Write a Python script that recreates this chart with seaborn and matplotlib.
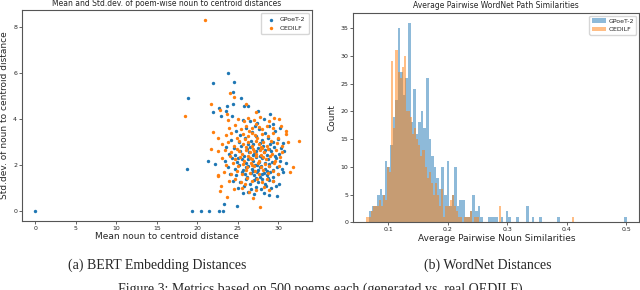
import numpy as np
import pandas as pd
import matplotlib
matplotlib.use("Agg")
import matplotlib.pyplot as plt
import seaborn as sns

# --- (a) BERT: mean / std.dev. of noun-to-centroid distance per poem
gpoet_pts = [
    (0, 0), (19.4, 0), (20.5, 0), (21.4, 0), (22.7, 0), (23.2, 0), (23.3, 0.33), (24.9, 0.24),
    (18.7, 1.85), (21.3, 2.2), (22.2, 2.07), (18.8, 4.94), (23.8, 6.02), (22.0, 5.56), (24.5, 5.6),
    (24.4, 5.2), (25.4, 4.94), (22.0, 4.31), (22.7, 4.48), (23.7, 4.55), (22.9, 4.12), (24.3, 4.12),
    (24.4, 4.67), (25.8, 4.57), (26.3, 4.57), (23.6, 4.34), (27.5, 4.37), (29.0, 4.24), (29.8, 0.67),
    (26.5, 3.9), (27.4, 3.85), (28.2, 4.0), (29.3, 3.8), (25.7, 3.95), (28.9, 3.7),
    (24.8, 3.5), (26.0, 3.6), (26.8, 3.45), (27.6, 3.55), (28.4, 3.4), (29.6, 3.5), (30.2, 3.6),
    (25.3, 3.3), (27.1, 3.7),
    (24.2, 3.1), (25.1, 3.0), (25.9, 3.2), (26.6, 3.05), (27.3, 3.25), (28.0, 3.1), (28.7, 3.2),
    (29.4, 3.0), (30.0, 3.15), (30.6, 2.95), (26.2, 2.9),
    (23.6, 2.8), (24.5, 2.75), (25.4, 2.85), (26.1, 2.7), (26.9, 2.9), (27.5, 2.75), (28.1, 2.85),
    (28.8, 2.7), (29.5, 2.8), (30.3, 2.75), (27.8, 2.95), (26.5, 2.8), (29.0, 2.9),
    (23.9, 2.5), (24.7, 2.45), (25.3, 2.6), (25.8, 2.4), (26.4, 2.55), (26.9, 2.45), (27.3, 2.6),
    (27.7, 2.4), (28.2, 2.55), (28.6, 2.45), (29.1, 2.6), (29.6, 2.4), (30.1, 2.5), (30.7, 2.6),
    (27.0, 2.5), (28.4, 2.65), (25.0, 2.3),
    (23.4, 2.2), (24.3, 2.3), (24.9, 2.15), (25.5, 2.25), (26.0, 2.1), (26.5, 2.3), (26.9, 2.2),
    (27.2, 2.35), (27.6, 2.15), (28.0, 2.3), (28.3, 2.1), (28.7, 2.25), (29.2, 2.15), (29.7, 2.3),
    (30.2, 2.2), (30.9, 2.1), (27.4, 2.0), (26.2, 2.25), (28.9, 2.05),
    (23.8, 1.9), (24.6, 1.85), (25.2, 2.0), (25.7, 1.8), (26.3, 1.95), (26.7, 1.85), (27.1, 2.0),
    (27.5, 1.8), (27.9, 1.95), (28.4, 1.85), (28.8, 1.95), (29.3, 1.8), (29.8, 1.9), (30.4, 1.85),
    (26.0, 1.9), (27.7, 1.9), (28.6, 1.75),
    (24.0, 1.6), (24.8, 1.55), (25.5, 1.7), (26.1, 1.5), (26.6, 1.65), (27.0, 1.55), (27.4, 1.7),
    (27.8, 1.5), (28.2, 1.65), (28.6, 1.55), (29.0, 1.7), (29.4, 1.5), (30.0, 1.6), (30.6, 1.7),
    (26.9, 1.75), (28.0, 1.6), (25.9, 1.6),
    (24.4, 1.3), (25.3, 1.25), (26.0, 1.4), (26.5, 1.2), (27.0, 1.35), (27.5, 1.25), (28.0, 1.4),
    (28.4, 1.2), (28.9, 1.35), (29.4, 1.3), (30.1, 1.2), (27.2, 1.45), (28.7, 1.45),
    (25.0, 1.0), (25.8, 1.1), (26.6, 0.95), (27.3, 1.05), (27.9, 0.95), (28.5, 1.1), (29.1, 1.0),
    (29.7, 1.1), (26.3, 0.85), (28.2, 0.8), (27.0, 0.75), (28.8, 0.7), (25.6, 0.8),
]
oedilf_pts = [
    (21.0, 8.33), (18.5, 4.12), (21.7, 4.64), (24.1, 5.14), (24.5, 4.96), (26.0, 4.67), (22.8, 4.38),
    (23.7, 4.22), (27.3, 4.29), (29.5, 4.05), (23.8, 3.97), (32.5, 3.04), (31.8, 1.9), (31.4, 1.68),
    (27.7, 0.16), (21.9, 3.43), (21.7, 2.69), (22.5, 1.53),
    (25.0, 4.0), (26.2, 4.05), (27.0, 3.95), (27.8, 4.1), (28.9, 3.9), (30.1, 4.0), (25.8, 3.9),
    (23.9, 3.6), (24.6, 3.75), (25.4, 3.55), (26.0, 3.7), (26.7, 3.6), (27.3, 3.8), (28.0, 3.55),
    (28.6, 3.7), (29.4, 3.6), (30.3, 3.7), (31.0, 3.5), (26.4, 3.5), (27.6, 3.65),
    (22.6, 3.2), (23.5, 3.3), (24.2, 3.4), (24.9, 3.2), (25.6, 3.35), (26.2, 3.25), (26.8, 3.4),
    (27.4, 3.2), (28.0, 3.35), (28.7, 3.25), (29.3, 3.4), (30.0, 3.2), (30.9, 3.35), (25.9, 3.15),
    (27.1, 3.3),
    (23.0, 2.9), (23.8, 3.0), (24.5, 2.85), (25.2, 3.05), (25.7, 2.9), (26.3, 3.0), (26.7, 2.85),
    (27.2, 3.05), (27.6, 2.9), (28.1, 3.0), (28.6, 2.85), (29.1, 3.05), (29.8, 2.95), (30.5, 2.85),
    (31.2, 3.0), (26.0, 2.8), (27.9, 2.8),
    (22.5, 2.6), (23.4, 2.65), (24.2, 2.55), (24.9, 2.7), (25.5, 2.5), (26.0, 2.65), (26.5, 2.55),
    (26.9, 2.7), (27.3, 2.5), (27.7, 2.65), (28.2, 2.55), (28.7, 2.7), (29.2, 2.5), (29.7, 2.65),
    (30.4, 2.55), (25.2, 2.6), (27.0, 2.6), (28.0, 2.75),
    (23.1, 2.3), (24.0, 2.4), (24.6, 2.25), (25.3, 2.35), (25.8, 2.2), (26.3, 2.4), (26.8, 2.25),
    (27.2, 2.4), (27.6, 2.2), (28.1, 2.35), (28.5, 2.25), (29.0, 2.4), (29.6, 2.2), (30.2, 2.35),
    (26.5, 2.3), (27.9, 2.45),
    (23.6, 2.0), (24.4, 2.1), (25.0, 1.95), (25.6, 2.05), (26.1, 1.9), (26.6, 2.1), (27.0, 1.95),
    (27.5, 2.1), (27.9, 1.9), (28.4, 2.05), (28.9, 1.95), (29.5, 2.1), (30.1, 1.95), (26.8, 2.0),
    (23.3, 1.7), (24.2, 1.6), (24.9, 1.75), (25.5, 1.6), (26.0, 1.8), (26.5, 1.65), (27.1, 1.75),
    (27.6, 1.6), (28.1, 1.8), (28.7, 1.65), (29.3, 1.75), (30.0, 1.6), (22.5, 1.55),
    (23.9, 1.3), (24.7, 1.4), (25.4, 1.25), (26.1, 1.45), (26.8, 1.3), (27.4, 1.4), (28.0, 1.25),
    (28.6, 1.4), (29.4, 1.3), (25.9, 1.2),
    (22.9, 1.1), (22.8, 0.89), (23.7, 0.63), (24.5, 0.95), (25.5, 1.0), (26.4, 0.85), (26.9, 0.56),
    (27.3, 0.9), (28.2, 1.05), (28.9, 0.9),
]

# --- (b) WordNet: histogram counts, 100 bins per model
gpoet_range = (0.068, 0.501)
gpoet_counts = [2, 3, 3, 5, 6, 5, 11, 10, 14, 19,
                22, 35, 27, 23, 26, 36, 18, 24, 16, 18,
                20, 17, 26, 15, 12, 10, 8, 6, 10, 5,
                11, 3, 5, 10, 3, 4, 4, 1, 1, 2,
                5, 2, 3, 1, 0, 0, 1, 1, 1, 1,
                0, 1, 0, 2, 1, 0, 0, 1, 0, 0,
                0, 3, 0, 1, 0, 0, 1, 0, 0, 0,
                0, 0, 0, 1, 0, 0, 0, 0, 0, 0,
                0, 0, 0, 0, 0, 0, 0, 0, 0, 0,
                0, 0, 0, 0, 0, 0, 0, 0, 0, 1]
oedilf_range = (0.063, 0.4125)
oedilf_counts = [1, 1, 2, 3, 3, 3, 4, 3, 5, 4,
                 10, 9, 29, 17, 31, 27, 26, 28, 30, 20,
                 20, 19, 16, 17, 15, 14, 12, 13, 10, 8,
                 9, 7, 5, 7, 5, 3, 6, 1, 3, 3,
                 4, 5, 3, 2, 1, 1, 0, 1, 1, 1,
                 2, 0, 1, 1, 0, 0, 0, 0, 0, 0,
                 0, 0, 0, 0, 3, 0, 0, 0, 0, 0,
                 0, 0, 0, 0, 0, 0, 0, 0, 0, 0,
                 0, 0, 0, 0, 0, 0, 0, 0, 0, 0,
                 0, 0, 0, 0, 0, 0, 0, 0, 0, 1]

sns.set_theme(style="ticks")
plt.rcParams["font.family"] = ["DejaVu Sans"]

fig = plt.figure(figsize=(6.4, 2.9), dpi=100)
ax1 = fig.add_axes([0.0344, 0.239, 0.4527, 0.7266])
ax2 = fig.add_axes([0.552, 0.2334, 0.447, 0.7234])

blue, orange = "#1f77b4", "#ff7f0e"

gpoet_df = pd.DataFrame(gpoet_pts, columns=["mean", "std"])
oedilf_df = pd.DataFrame(oedilf_pts, columns=["mean", "std"])
sns.scatterplot(data=gpoet_df, x="mean", y="std", s=6, color=blue, linewidth=0,
                label="GPoeT-2", ax=ax1)
sns.scatterplot(data=oedilf_df, x="mean", y="std", s=6, color=orange, linewidth=0,
                label="OEDILF", ax=ax1)
ax1.set_title("Mean and Std.dev. of poem-wise noun to centroid distances", fontsize=5.5, pad=3)
ax1.set_xlabel("Mean noun to centroid distance", fontsize=6.5, labelpad=1)
ax1.set_ylabel("Std.dev. of noun to centroid distance", fontsize=6.5, labelpad=3)
ax1.set_xticks([0, 5, 10, 15, 20, 25, 30])
ax1.set_yticks([0, 2, 4, 6, 8])
ax1.legend(loc="upper right", fontsize=4.5, markerscale=1.0, handletextpad=0.3, borderpad=0.6)

for counts, rng, col, lab in [(gpoet_counts, gpoet_range, blue, "GPoeT-2"),
                              (oedilf_counts, oedilf_range, orange, "OEDILF")]:
    edges = np.linspace(rng[0], rng[1], len(counts) + 1)
    hist_df = pd.DataFrame({"sim": (edges[:-1] + edges[1:]) / 2, "n": counts})
    sns.histplot(data=hist_df, x="sim", weights="n", bins=list(edges), color=col, alpha=0.5,
                 linewidth=0, label=lab, ax=ax2)
ax2.set_title("Average Pairwise WordNet Path Similarities", fontsize=5.5, pad=3)
ax2.set_xlabel("Average Pairwise Noun Similarities", fontsize=6.5, labelpad=1)
ax2.set_ylabel("Count", fontsize=6.5, labelpad=3)
ax2.set_xticks([0.1, 0.2, 0.3, 0.4, 0.5])
ax2.set_yticks([0, 5, 10, 15, 20, 25, 30, 35])
ax2.set_xlim(0.041, 0.522)
ax2.legend(loc="upper right", fontsize=4.5, handlelength=2.2, handletextpad=0.4)

for ax in (ax1, ax2):
    ax.tick_params(labelsize=4.5, length=2, width=0.5, pad=1.5)
    for sp in ax.spines.values():
        sp.set_linewidth(0.8)
        sp.set_color("#555555")

fig.text(0.245, 1 - 265 / 290, "(a) BERT Embedding Distances", ha="center", va="center",
         fontsize=10, family="Liberation Serif")
fig.text(0.762, 1 - 265 / 290, "(b) WordNet Distances", ha="center", va="center",
         fontsize=10, family="Liberation Serif")
fig.text(0.5, 1 - 283 / 290, "Figure 3: Metrics based on 500 poems each (generated vs. real OEDILF)",
         ha="center", va="top", fontsize=10, family="Liberation Serif")

fig.savefig("out.png", dpi=100)
